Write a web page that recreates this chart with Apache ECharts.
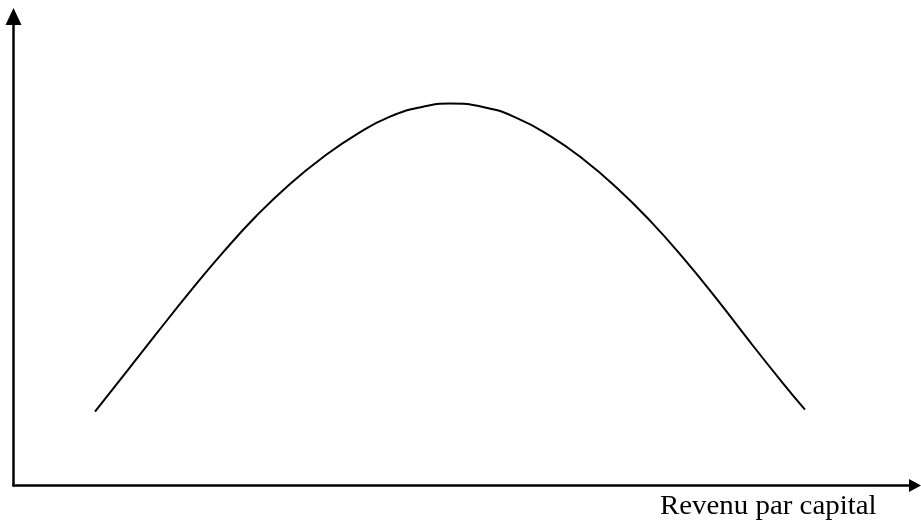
<!DOCTYPE html>
<html>
<head>
<meta charset="utf-8">
<script src="https://cdn.jsdelivr.net/npm/echarts@6/dist/echarts.min.js"></script>
<style>
  html, body { margin: 0; padding: 0; background: #fff; }
  #chart { width: 921px; height: 521px; }
</style>
</head>
<body>
<div id="chart"></div>
<script>
// Inverted-U curve: income per capita (x) against the vertical quantity (y), arbitrary units 0-100
const incomeLevels = [9.04, 12.48, 15.92, 19.58, 23.24, 27.01, 30.67, 34.33, 38.10, 41.76, 45.42, 48.42,
                      52.08, 55.85, 59.51, 63.17, 66.94, 70.60, 74.26, 78.04, 81.70, 85.36, 87.80];
const curveValues  = [15.74, 24.14, 32.54, 41.32, 49.70, 57.61, 64.31, 70.00, 74.93, 78.66, 80.77, 81.43,
                      80.72, 78.34, 74.54, 69.62, 63.45, 56.48, 48.59, 39.68, 30.60, 21.79, 16.16];
const xAxisTitle = 'Revenu par capital';

const points = incomeLevels.map((x, i) => [x, curveValues[i]]);

const axisStyle = {
  show: true,
  onZero: false,
  symbol: ['none', 'triangle'],
  lineStyle: { color: '#000', width: 2.5 }
};

const chart = echarts.init(document.getElementById('chart'), null, { renderer: 'canvas' });
chart.setOption({
  backgroundColor: '#fff',
  animation: false,
  graphic: [{
    type: 'text',
    x: 660,
    y: 507,
    scaleX: 1.07,
    style: {
      text: xAxisTitle,
      font: '27px "Liberation Serif"',
      fill: '#000',
      align: 'left',
      verticalAlign: 'middle'
    }
  }],
  grid: { left: 13.5, right: 6, top: 16.5, bottom: 35.5 },
  xAxis: {
    type: 'value',
    min: 0,
    max: 100,
    axisLine: Object.assign({}, axisStyle, { symbolSize: [13, 12] }),
    axisTick: { show: false },
    axisLabel: { show: false },
    splitLine: { show: false }
  },
  yAxis: {
    type: 'value',
    min: 0,
    max: 100,
    axisLine: Object.assign({}, axisStyle, { symbolSize: [16, 17] }),
    axisTick: { show: false },
    axisLabel: { show: false },
    splitLine: { show: false }
  },
  series: [{
    type: 'line',
    data: points,
    smooth: true,
    showSymbol: false,
    lineStyle: { color: '#000', width: 2 }
  }]
});
</script>
</body>
</html>
